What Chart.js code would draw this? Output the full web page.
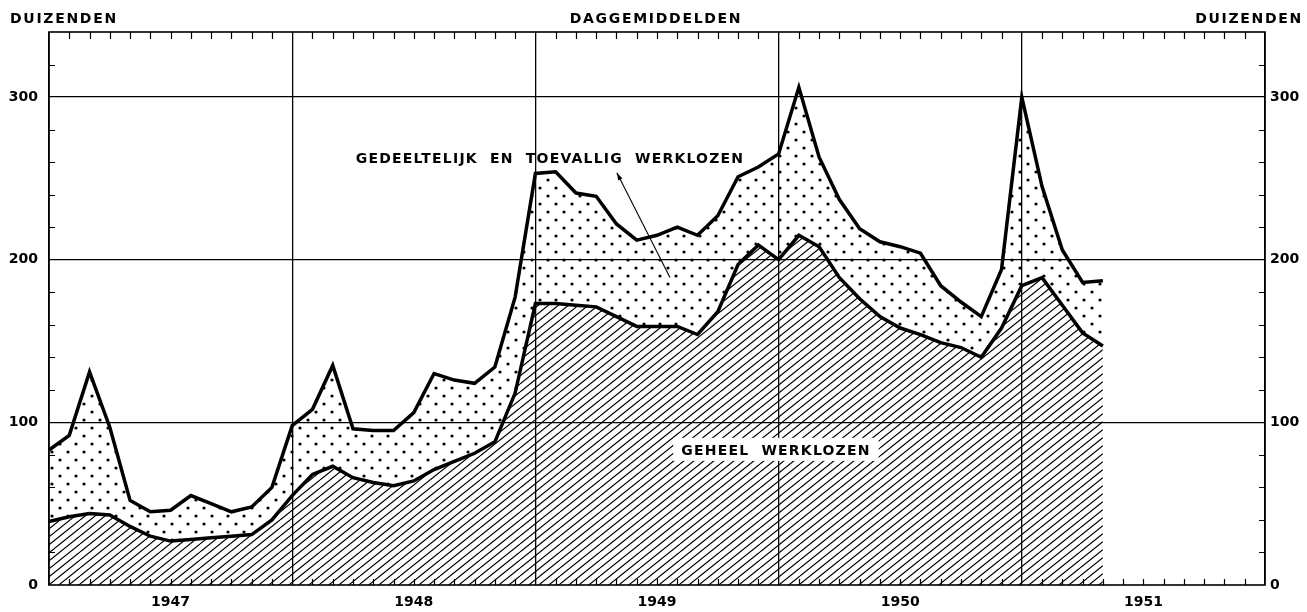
<!DOCTYPE html>
<html>
<head>
<meta charset="utf-8">
<script src="https://cdn.jsdelivr.net/npm/chart.js@4.4.1/dist/chart.umd.min.js"></script>
<style>
  html, body { margin: 0; padding: 0; background: #fff; }
  #wrap { width: 1307px; height: 612px; position: relative; }
</style>
</head>
<body>
<div id="wrap"><canvas id="werkloosheid"></canvas></div>
<script>
// maanden op de x-as: jan 1947 t/m jan 1952
const maanden = [
  'jan 47','feb 47','mrt 47','apr 47','mei 47','jun 47','jul 47','aug 47','sep 47','okt 47','nov 47','dec 47',
  'jan 48','feb 48','mrt 48','apr 48','mei 48','jun 48','jul 48','aug 48','sep 48','okt 48','nov 48','dec 48',
  'jan 49','feb 49','mrt 49','apr 49','mei 49','jun 49','jul 49','aug 49','sep 49','okt 49','nov 49','dec 49',
  'jan 50','feb 50','mrt 50','apr 50','mei 50','jun 50','jul 50','aug 50','sep 50','okt 50','nov 50','dec 50',
  'jan 51','feb 51','mrt 51','apr 51','mei 51','jun 51','jul 51','aug 51','sep 51','okt 51','nov 51','dec 51',
  'jan 52'
];
const jaren = ['1947', '1948', '1949', '1950', '1951'];

// daggemiddelden in duizenden
const geheelWerklozen = [
  39, 42, 44, 43, 36, 30, 27, 28, 29, 30, 31, 40,
  55, 68, 73, 66, 63, 61, 64, 71, 76, 81, 88, 118,
  173, 173, 172, 171, 165, 159, 159, 159, 154, 168, 197, 209,
  200, 215, 208, 189, 176, 165, 158, 154, 149, 146, 140, 158,
  184, 189, 172, 155, 147
];
// geheel + gedeeltelijk en toevallig werklozen (bovenste lijn)
const totaalWerklozen = [
  83, 92, 131, 97, 52, 45, 46, 55, 50, 45, 48, 60,
  98, 108, 135, 96, 95, 95, 106, 130, 126, 124, 134, 177,
  253, 254, 241, 239, 222, 212, 215, 220, 215, 227, 251, 257,
  265, 306, 263, 237, 219, 211, 208, 204, 184, 174, 165, 194,
  300, 245, 206, 186, 187
];

const yTicks = [0, 100, 200, 300];

function arcering() {
  const c = document.createElement('canvas');
  c.width = 40; c.height = 32;
  const g = c.getContext('2d');
  g.strokeStyle = '#000';
  g.lineWidth = 1.2;
  for (let k = 0; k <= 8; k++) {
    g.beginPath();
    g.moveTo(0, k * 8);
    g.lineTo(40, k * 8 - 32);
    g.stroke();
  }
  return g.createPattern(c, 'repeat');
}

function stippels() {
  const c = document.createElement('canvas');
  c.width = 16; c.height = 16;
  const g = c.getContext('2d');
  g.fillStyle = '#000';
  [[4, 4], [12, 12]].forEach(([px, py]) => {
    g.beginPath();
    g.arc(px, py, 1.6, 0, Math.PI * 2);
    g.fill();
  });
  return g.createPattern(c, 'repeat');
}

const FONT = '"DejaVu Sans", sans-serif';

const decor = {
  id: 'decor',
  afterDraw(chart) {
    const { ctx, chartArea: a, scales: { x, y } } = chart;
    ctx.save();
    ctx.strokeStyle = '#000';

    // maandstreepjes boven en onder
    ctx.lineWidth = 1.2;
    for (let i = 1; i < maanden.length - 1; i++) {
      if (i % 12 === 0) continue;
      const px = Math.round(x.getPixelForValue(i)) + 0.5;
      ctx.beginPath();
      ctx.moveTo(px, a.top); ctx.lineTo(px, a.top + 7);
      ctx.moveTo(px, a.bottom); ctx.lineTo(px, a.bottom - 6);
      ctx.stroke();
    }
    // hulpstreepjes op de y-assen
    for (let v = 20; v < 340; v += 20) {
      if (v % 100 === 0) continue;
      const py = Math.round(y.getPixelForValue(v)) + 0.5;
      ctx.beginPath();
      ctx.moveTo(a.left, py); ctx.lineTo(a.left + 6, py);
      ctx.moveTo(a.right, py); ctx.lineTo(a.right - 6, py);
      ctx.stroke();
    }
    // kader
    ctx.lineWidth = 1.6;
    ctx.strokeRect(a.left, a.top, a.right - a.left, a.bottom - a.top);

    // koppen
    ctx.fillStyle = '#000';
    ctx.font = 'bold 14px ' + FONT;
    ctx.letterSpacing = '1.7px';
    ctx.textBaseline = 'alphabetic';
    ctx.textAlign = 'left';
    ctx.fillText('DUIZENDEN', 10, 23);
    ctx.textAlign = 'center';
    ctx.fillText('DAGGEMIDDELDEN', 656, 23);
    ctx.textAlign = 'right';
    ctx.fillText('DUIZENDEN', 1303, 23);

    // label gedeeltelijk werklozen
    ctx.letterSpacing = '1.2px';
    ctx.textAlign = 'center';
    ctx.fillText('GEDEELTELIJK  EN  TOEVALLIG  WERKLOZEN',
      x.getPixelForValue(24.72), y.getPixelForValue(259.5));

    // pijl
    const hx = x.getPixelForValue(28.02), hy = y.getPixelForValue(253.5);
    const tx = x.getPixelForValue(30.64), ty = y.getPixelForValue(189);
    ctx.lineWidth = 1.1;
    ctx.beginPath();
    ctx.moveTo(tx, ty); ctx.lineTo(hx, hy);
    ctx.stroke();
    const ang = Math.atan2(hy - ty, hx - tx);
    ctx.beginPath();
    ctx.moveTo(hx, hy);
    ctx.lineTo(hx - 8 * Math.cos(ang - 0.3), hy - 8 * Math.sin(ang - 0.3));
    ctx.lineTo(hx - 8 * Math.cos(ang + 0.3), hy - 8 * Math.sin(ang + 0.3));
    ctx.closePath();
    ctx.fill();

    // label geheel werklozen met witte achtergrond
    const gx = x.getPixelForValue(35.87), gy = y.getPixelForValue(80);
    ctx.letterSpacing = '1.2px';
    const txt = 'GEHEEL  WERKLOZEN';
    const w = ctx.measureText(txt).width;
    ctx.fillStyle = '#fff';
    ctx.fillRect(gx - w / 2 - 8, gy - 17, w + 16, 23);
    ctx.fillStyle = '#000';
    ctx.fillText(txt, gx, gy);
    ctx.restore();
  }
};

new Chart(document.getElementById('werkloosheid'), {
  type: 'line',
  data: {
    labels: maanden,
    datasets: [
      {
        label: 'Geheel werklozen',
        data: geheelWerklozen,
        borderColor: '#000',
        borderWidth: 3.5,
        backgroundColor: arcering(),
        fill: 'origin',
        pointRadius: 0,
        tension: 0
      },
      {
        label: 'Gedeeltelijk en toevallig werklozen',
        data: totaalWerklozen,
        borderColor: '#000',
        borderWidth: 3.5,
        backgroundColor: stippels(),
        fill: '-1',
        pointRadius: 0,
        tension: 0
      }
    ]
  },
  options: {
    responsive: true,
    maintainAspectRatio: false,
    animation: false,
    layout: { padding: { top: 32 } },
    plugins: {
      legend: { display: false },
      tooltip: { enabled: false },
      title: { display: false }
    },
    scales: {
      x: {
        type: 'category',
        offset: false,
        border: { display: false },
        grid: {
          drawTicks: false,
          lineWidth: 1.3,
          color: c => (c.index % 12 === 0 ? '#000' : 'rgba(0,0,0,0)')
        },
        ticks: {
          autoSkip: false,
          maxRotation: 0,
          padding: 9,
          color: '#000',
          font: { family: FONT, size: 14, weight: 'bold' },
          callback: (v, i) => (i % 12 === 6 ? jaren[(i - 6) / 12] : '')
        },
        afterFit: s => { s.height = 27; }
      },
      y: {
        position: 'left',
        min: 0,
        max: 340,
        border: { display: false },
        grid: {
          drawTicks: false,
          lineWidth: 1.3,
          color: c => ([100, 200, 300].includes(c.tick.value) ? '#000' : 'rgba(0,0,0,0)')
        },
        ticks: {
          stepSize: 20,
          padding: 11,
          color: '#000',
          font: { family: FONT, size: 14, weight: 'bold' },
          callback: v => (yTicks.includes(v) ? v : '')
        },
        afterFit: s => { s.width = 49; }
      },
      y2: {
        position: 'right',
        min: 0,
        max: 340,
        border: { display: false },
        grid: { drawOnChartArea: false, drawTicks: false },
        ticks: {
          stepSize: 20,
          padding: 5,
          color: '#000',
          font: { family: FONT, size: 14, weight: 'bold' },
          callback: v => (yTicks.includes(v) ? v : '')
        },
        afterFit: s => { s.width = 42; }
      }
    }
  },
  plugins: [decor]
});
</script>
</body>
</html>
